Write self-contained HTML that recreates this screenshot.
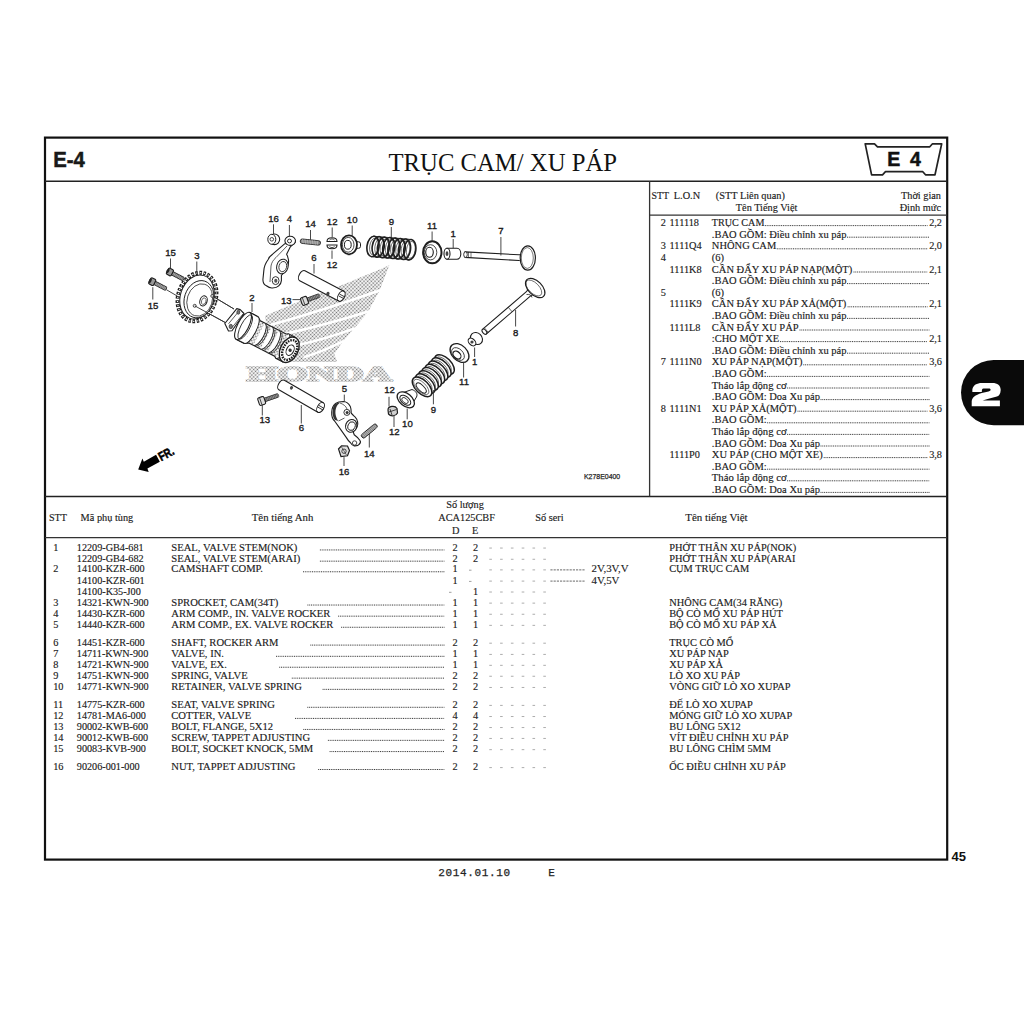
<!DOCTYPE html>
<html><head><meta charset="utf-8"><title>E-4 TRỤC CAM/ XU PÁP</title>
<style>html,body{margin:0;padding:0;background:#fff;width:1024px;height:1024px;overflow:hidden}svg{display:block}</style></head>
<body><svg width="1024" height="1024" viewBox="0 0 1024 1024" font-family="Liberation Serif">
<rect width="1024" height="1024" fill="#fff"/>
<defs>
<pattern id="ht" width="2.6" height="2.6" patternUnits="userSpaceOnUse" patternTransform="rotate(45)"><rect width="2.6" height="2.6" fill="#fff"/><circle cx="1.3" cy="1.3" r="0.85" fill="#707070"/></pattern>
<pattern id="ht2" width="2.2" height="2.2" patternUnits="userSpaceOnUse" patternTransform="rotate(45)"><rect width="2.2" height="2.2" fill="#fff"/><circle cx="1.1" cy="1.1" r="0.8" fill="#777"/></pattern>
</defs>
<g>
<path d="M264.9,315.9 C300,300 350,283 389.5,264.9 L379.6,290.4 L368.3,311.6 L354.1,328.6 L342.8,341.4 L334.3,354.1 L337.1,362 L291.8,362 L280.5,351.3 L267.7,331.5 Z" fill="url(#ht)"/>
<path d="M379.6,290.4 Q323.6,310.1 267.7,325.8" fill="none" stroke="#fff" stroke-width="2.6" stroke-linecap="round"/>
<path d="M368.3,311.6 Q325.8,325.0 283.3,334.3" fill="none" stroke="#fff" stroke-width="2.6" stroke-linecap="round"/>
<path d="M354.1,328.6 Q325.1,339.1 296,345.6" fill="none" stroke="#fff" stroke-width="2.6" stroke-linecap="round"/>
<path d="M342.8,341.4 Q323.7,351.2 304.6,357" fill="none" stroke="#fff" stroke-width="2.6" stroke-linecap="round"/>
<text x="247" y="380.6" font-family="Liberation Serif" font-weight="bold" font-size="21.5" textLength="144.5" lengthAdjust="spacingAndGlyphs" fill="url(#ht)" stroke="url(#ht)" stroke-width="2.2" stroke-linejoin="miter">HONDA</text>
</g>
<line x1="166.4" y1="289.7" x2="177.5" y2="296.2" stroke="#333" stroke-width="0.9"/>
<line x1="183.5" y1="279.4" x2="188.5" y2="282.2" stroke="#333" stroke-width="0.9"/>
<line x1="212.3" y1="296" x2="234" y2="309" stroke="#333" stroke-width="0.9"/>
<line x1="194.7" y1="305.8" x2="225" y2="322.4" stroke="#333" stroke-width="0.9"/>
<g transform="translate(197,297) rotate(18)">
<ellipse cx="0" cy="0" rx="18.8" ry="24.8" fill="#fff" stroke="#1e1e1e" stroke-width="4" stroke-dasharray="2.5 1.55" stroke-linecap="butt"/>
<ellipse cx="0" cy="0" rx="18.8" ry="24.8" fill="none" stroke="#fff" stroke-width="1.3" stroke-dasharray="1.1 2.95" stroke-dashoffset="-0.7"/>
<ellipse cx="0" cy="0" rx="16.6" ry="22.5" fill="#fff" stroke="#1e1e1e" stroke-width="1"/>
<ellipse cx="2.5" cy="1.5" rx="14.5" ry="19" fill="#fff" stroke="#1e1e1e" stroke-width="0.9"/>
<ellipse cx="3.5" cy="2" rx="12.5" ry="16.5" fill="none" stroke="#1e1e1e" stroke-width="0.7"/>
</g>
<ellipse cx="203.5" cy="300.9" rx="3.6" ry="5.2" transform="rotate(18 203.5 300.9)" fill="#fff" stroke="#1e1e1e" stroke-width="1"/>
<ellipse cx="203.8" cy="301.1" rx="2.2" ry="3.4" transform="rotate(18 203.5 300.9)" fill="none" stroke="#1e1e1e" stroke-width="0.6"/>
<circle cx="212.3" cy="296" r="1.5" fill="#fff" stroke="#1e1e1e" stroke-width="0.8"/>
<circle cx="194.7" cy="305.8" r="1.5" fill="#fff" stroke="#1e1e1e" stroke-width="0.8"/>
<line x1="212.3" y1="296" x2="234" y2="309" stroke="#333" stroke-width="0.9"/>
<line x1="194.7" y1="305.8" x2="225" y2="322.4" stroke="#333" stroke-width="0.9"/>
<g transform="translate(170.5,272.3) rotate(28.0)">
<rect x="0" y="-1.8" width="14.7" height="3.6" rx="0.8" fill="#777" stroke="#1e1e1e" stroke-width="0.9"/>
<line x1="3.0" y1="-1.8" x2="3.0" y2="1.8" stroke="#ddd" stroke-width="0.4"/>
<line x1="4.6" y1="-1.8" x2="4.6" y2="1.8" stroke="#ddd" stroke-width="0.4"/>
<line x1="6.2" y1="-1.8" x2="6.2" y2="1.8" stroke="#ddd" stroke-width="0.4"/>
<line x1="7.8" y1="-1.8" x2="7.8" y2="1.8" stroke="#ddd" stroke-width="0.4"/>
<line x1="9.4" y1="-1.8" x2="9.4" y2="1.8" stroke="#ddd" stroke-width="0.4"/>
<line x1="11.0" y1="-1.8" x2="11.0" y2="1.8" stroke="#ddd" stroke-width="0.4"/>
<line x1="12.6" y1="-1.8" x2="12.6" y2="1.8" stroke="#ddd" stroke-width="0.4"/>
<line x1="14.2" y1="-1.8" x2="14.2" y2="1.8" stroke="#ddd" stroke-width="0.4"/>
<rect x="-3.4" y="-3.4" width="5.44" height="6.8" rx="1.2" fill="#999" stroke="#1e1e1e" stroke-width="1.1"/>
<ellipse cx="-2.9" cy="0" rx="1.3" ry="2.5999999999999996" fill="#222"/>
</g>
<g transform="translate(152.8,282) rotate(26.9)">
<rect x="0" y="-1.8" width="15.0" height="3.6" rx="0.8" fill="#777" stroke="#1e1e1e" stroke-width="0.9"/>
<line x1="3.0" y1="-1.8" x2="3.0" y2="1.8" stroke="#ddd" stroke-width="0.4"/>
<line x1="4.6" y1="-1.8" x2="4.6" y2="1.8" stroke="#ddd" stroke-width="0.4"/>
<line x1="6.2" y1="-1.8" x2="6.2" y2="1.8" stroke="#ddd" stroke-width="0.4"/>
<line x1="7.8" y1="-1.8" x2="7.8" y2="1.8" stroke="#ddd" stroke-width="0.4"/>
<line x1="9.4" y1="-1.8" x2="9.4" y2="1.8" stroke="#ddd" stroke-width="0.4"/>
<line x1="11.0" y1="-1.8" x2="11.0" y2="1.8" stroke="#ddd" stroke-width="0.4"/>
<line x1="12.6" y1="-1.8" x2="12.6" y2="1.8" stroke="#ddd" stroke-width="0.4"/>
<line x1="14.2" y1="-1.8" x2="14.2" y2="1.8" stroke="#ddd" stroke-width="0.4"/>
<rect x="-3.4" y="-3.4" width="5.44" height="6.8" rx="1.2" fill="#999" stroke="#1e1e1e" stroke-width="1.1"/>
<ellipse cx="-2.9" cy="0" rx="1.3" ry="2.5999999999999996" fill="#222"/>
</g>
<text x="170.6" y="256.3" font-family="Liberation Sans" font-size="9.6" text-anchor="middle" fill="#1a1a1a" stroke="#1a1a1a" stroke-width="0.35">15</text>
<line x1="170.5" y1="258.5" x2="170.5" y2="268.5" stroke="#333" stroke-width="0.9"/>
<text x="153" y="309.4" font-family="Liberation Sans" font-size="9.6" text-anchor="middle" fill="#1a1a1a" stroke="#1a1a1a" stroke-width="0.35">15</text>
<line x1="152.8" y1="287.2" x2="152.8" y2="299.5" stroke="#333" stroke-width="0.9"/>
<text x="196.8" y="259" font-family="Liberation Sans" font-size="9.6" text-anchor="middle" fill="#1a1a1a" stroke="#1a1a1a" stroke-width="0.35">3</text>
<line x1="196.8" y1="261.5" x2="196.8" y2="273.5" stroke="#333" stroke-width="0.9"/>
<path d="M224.8,323.5 L236.8,308.6 L240.2,309.6 L244,313.5 L232,330.8 L228.5,331 Z" fill="#fff" stroke="#1e1e1e" stroke-width="1.1" stroke-linejoin="round"/>
<path d="M228.5,323.8 L239.5,310.5 M232,327.5 L243,314" fill="none" stroke="#1e1e1e" stroke-width="0.7"/>
<ellipse cx="230.8" cy="326.5" rx="1.7" ry="2.2" fill="#777" stroke="#1e1e1e" stroke-width="0.6"/>
<ellipse cx="238.3" cy="312.3" rx="1.5" ry="2" fill="#777" stroke="#1e1e1e" stroke-width="0.6"/>
<g transform="translate(229.7,319) rotate(27.3)">
<path d="M15,-15 L24,-15 L28,-12.5 L57,-12.5 L59,-13.8 L67,-13.8 L67,13.8 L59,13.8 L57,12.5 L28,12.5 L24,15 L15,15 Z" fill="url(#ht)" stroke="#1e1e1e" stroke-width="1.1"/>
<path d="M15,-15 L24,-15 L24,15 L15,15 Z" fill="#fff"/>
<path d="M15,-15 L24,-15 M15,15 L24,15" stroke="#1e1e1e" stroke-width="1.1"/>
<ellipse cx="15" cy="0" rx="5.5" ry="15" fill="#fff" stroke="#1e1e1e" stroke-width="1.1"/>
<ellipse cx="17.5" cy="0" rx="4.5" ry="13.5" fill="none" stroke="#1e1e1e" stroke-width="0.8"/>
<path d="M24,-15 A5,15 0 0 1 24,15" fill="#fff" stroke="#1e1e1e" stroke-width="0.9"/>
<path d="M33,-12.5 A5,12.5 0 0 1 33,12.5" fill="#fff" stroke="#1e1e1e" stroke-width="0.9"/>
<path d="M36,-11 A4,11 0 0 1 36,11" fill="none" stroke="#1e1e1e" stroke-width="0.7"/>
<path d="M41,-12.5 A5,12.5 0 0 1 41,12.5" fill="#fff" stroke="#1e1e1e" stroke-width="0.9"/>
<path d="M44,-11 A4,11 0 0 1 44,11" fill="none" stroke="#1e1e1e" stroke-width="0.7"/>
<path d="M49,-12.5 A5,12.5 0 0 1 49,12.5" fill="#fff" stroke="#1e1e1e" stroke-width="0.9"/>
<path d="M52,-11 A4,11 0 0 1 52,11" fill="none" stroke="#1e1e1e" stroke-width="0.7"/>
<path d="M59,-13.8 A5,13.8 0 0 1 59,13.8" fill="#fff" stroke="#1e1e1e" stroke-width="0.9"/>
<ellipse cx="67" cy="0" rx="8.8" ry="13.6" fill="#fff" stroke="#1e1e1e" stroke-width="1.4"/>
<ellipse cx="67.5" cy="0" rx="6.6" ry="10.6" fill="#fff" stroke="#1e1e1e" stroke-width="2.4" stroke-dasharray="1.6 1"/>
<ellipse cx="68" cy="0" rx="3.6" ry="5.6" fill="none" stroke="#1e1e1e" stroke-width="1"/>
<circle cx="68" cy="0" r="1.7" fill="#333"/>
</g>
<text x="252" y="300.6" font-family="Liberation Sans" font-size="9.6" text-anchor="middle" fill="#1a1a1a" stroke="#1a1a1a" stroke-width="0.35">2</text>
<line x1="252" y1="303" x2="252" y2="312" stroke="#333" stroke-width="0.9"/>
<ellipse cx="274.5" cy="239.3" rx="5.2" ry="5.3" fill="#fff" stroke="#1e1e1e" stroke-width="1.1"/>
<ellipse cx="271.8" cy="239.3" rx="4" ry="5" fill="#fff" stroke="#1e1e1e" stroke-width="1"/>
<circle cx="271.8" cy="239.3" r="1.8" fill="none" stroke="#1e1e1e" stroke-width="0.8"/>
<text x="273.5" y="221.8" font-family="Liberation Sans" font-size="9.6" text-anchor="middle" fill="#1a1a1a" stroke="#1a1a1a" stroke-width="0.35">16</text>
<line x1="273.5" y1="224.3" x2="273.5" y2="234" stroke="#333" stroke-width="0.9"/>
<path d="M284.9,243.7 L272.6,254.2 C270,256 268.5,258 268.2,259.5 C265.5,263 264,267 263.8,270.9 L262.9,279.7 C263,283 264.5,285 266.4,285.8 C268.5,287.5 270.5,288.3 272.6,288 C275.5,287.8 277.5,287 278.7,285.8 C280.5,284 281.3,282.5 281.4,280.6 L281.4,275.3 C284,273 286.5,270 287.5,266.5 C288.5,264 288.8,261.5 288.4,259.5 C288,257.5 287.5,255.5 286.6,254.2 L290.1,247.2 L295.4,241.9 Z" fill="#fff" stroke="#1e1e1e" stroke-width="1.1" stroke-linejoin="round"/>
<path d="M287,246 L276,257.5 C273,260 271.5,263 271,266 L270,282" fill="none" stroke="#1e1e1e" stroke-width="0.7"/>
<ellipse cx="290.2" cy="240.8" rx="5.3" ry="4.6" fill="#fff" stroke="#1e1e1e" stroke-width="1.1"/>
<ellipse cx="289.5" cy="241" rx="2" ry="1.9" fill="none" stroke="#1e1e1e" stroke-width="0.9"/>
<ellipse cx="282.4" cy="266.5" rx="5.7" ry="7.4" transform="rotate(15 282.4 266.5)" fill="#fff" stroke="#1e1e1e" stroke-width="1"/>
<ellipse cx="282.8" cy="266.5" rx="3.8" ry="5.2" transform="rotate(15 282.4 266.5)" fill="none" stroke="#1e1e1e" stroke-width="0.8"/>
<ellipse cx="275.6" cy="280.6" rx="3.4" ry="4" fill="#fff" stroke="#1e1e1e" stroke-width="0.9"/>
<ellipse cx="275.8" cy="280.8" rx="1.6" ry="2" fill="#555"/>
<text x="289.4" y="222" font-family="Liberation Sans" font-size="9.6" text-anchor="middle" fill="#1a1a1a" stroke="#1a1a1a" stroke-width="0.35">4</text>
<line x1="289.4" y1="225" x2="289.4" y2="236" stroke="#333" stroke-width="0.9"/>
<g transform="translate(300.3,241) rotate(6)">
<rect x="0" y="-2.2" width="20.3" height="4.4" rx="2" fill="#888" stroke="#1e1e1e" stroke-width="0.9"/>
<line x1="2.0" y1="-2.2" x2="2.0" y2="2.2" stroke="#e0e0e0" stroke-width="0.45"/>
<line x1="3.7" y1="-2.2" x2="3.7" y2="2.2" stroke="#e0e0e0" stroke-width="0.45"/>
<line x1="5.4" y1="-2.2" x2="5.4" y2="2.2" stroke="#e0e0e0" stroke-width="0.45"/>
<line x1="7.1" y1="-2.2" x2="7.1" y2="2.2" stroke="#e0e0e0" stroke-width="0.45"/>
<line x1="8.8" y1="-2.2" x2="8.8" y2="2.2" stroke="#e0e0e0" stroke-width="0.45"/>
<line x1="10.5" y1="-2.2" x2="10.5" y2="2.2" stroke="#e0e0e0" stroke-width="0.45"/>
<line x1="12.2" y1="-2.2" x2="12.2" y2="2.2" stroke="#e0e0e0" stroke-width="0.45"/>
<line x1="13.9" y1="-2.2" x2="13.9" y2="2.2" stroke="#e0e0e0" stroke-width="0.45"/>
<line x1="15.6" y1="-2.2" x2="15.6" y2="2.2" stroke="#e0e0e0" stroke-width="0.45"/>
<line x1="17.3" y1="-2.2" x2="17.3" y2="2.2" stroke="#e0e0e0" stroke-width="0.45"/>
</g>
<text x="310.5" y="227.3" font-family="Liberation Sans" font-size="9.6" text-anchor="middle" fill="#1a1a1a" stroke="#1a1a1a" stroke-width="0.35">14</text>
<line x1="310.5" y1="230" x2="310.5" y2="239.8" stroke="#333" stroke-width="0.9"/>
<path d="M327,241.5 C327,236.5 337,236.5 337,241.5 Z" fill="#fff" stroke="#1e1e1e" stroke-width="1.1"/>
<path d="M327,245 L337,245 C337,250 327,250 327,245 Z" fill="#fff" stroke="#1e1e1e" stroke-width="1.1"/>
<path d="M329.5,240 C331,238.5 333,238.5 334.5,240 M329.5,246.5 C331,248 333,248 334.5,246.5" fill="none" stroke="#1e1e1e" stroke-width="0.8"/>
<text x="332.2" y="225.2" font-family="Liberation Sans" font-size="9.6" text-anchor="middle" fill="#1a1a1a" stroke="#1a1a1a" stroke-width="0.35">12</text>
<line x1="332.2" y1="227.5" x2="332.2" y2="237" stroke="#333" stroke-width="0.9"/>
<text x="332" y="267.6" font-family="Liberation Sans" font-size="9.6" text-anchor="middle" fill="#1a1a1a" stroke="#1a1a1a" stroke-width="0.35">12</text>
<line x1="332" y1="250.5" x2="332" y2="258.8" stroke="#333" stroke-width="0.9"/>
<g transform="translate(302.3,275.7) rotate(27.7)">
<path d="M0,-5.6 L44,-5.6 A3.2,5.6 0 0 1 44,5.6 L0,5.6 A3.2,5.6 0 0 1 0,-5.6 Z" fill="#fff" stroke="#1e1e1e" stroke-width="1.1"/>
<path d="M44,-5.6 A3.2,5.6 0 0 0 44,5.6" fill="none" stroke="#1e1e1e" stroke-width="0.9"/>
<path d="M41.5,-1 L47,-1 M41.5,1 L47,1" stroke="#1e1e1e" stroke-width="0.8"/>
<ellipse cx="31" cy="4" rx="1.6" ry="2" fill="#444"/>
</g>
<text x="314" y="261.3" font-family="Liberation Sans" font-size="9.6" text-anchor="middle" fill="#1a1a1a" stroke="#1a1a1a" stroke-width="0.35">6</text>
<line x1="314" y1="264" x2="314" y2="273.5" stroke="#333" stroke-width="0.9"/>
<g transform="translate(305,300.7) rotate(-20.0)">
<rect x="0" y="-1.8" width="15.5" height="3.6" rx="1" fill="#555" stroke="#1e1e1e" stroke-width="0.8"/>
<line x1="4.0" y1="-1.7" x2="4.0" y2="1.7" stroke="#ddd" stroke-width="0.4"/>
<line x1="5.6" y1="-1.7" x2="5.6" y2="1.7" stroke="#ddd" stroke-width="0.4"/>
<line x1="7.2" y1="-1.7" x2="7.2" y2="1.7" stroke="#ddd" stroke-width="0.4"/>
<line x1="8.8" y1="-1.7" x2="8.8" y2="1.7" stroke="#ddd" stroke-width="0.4"/>
<line x1="10.4" y1="-1.7" x2="10.4" y2="1.7" stroke="#ddd" stroke-width="0.4"/>
<line x1="12.0" y1="-1.7" x2="12.0" y2="1.7" stroke="#ddd" stroke-width="0.4"/>
<line x1="13.6" y1="-1.7" x2="13.6" y2="1.7" stroke="#ddd" stroke-width="0.4"/>
<line x1="15.2" y1="-1.7" x2="15.2" y2="1.7" stroke="#ddd" stroke-width="0.4"/>
<rect x="-3.8" y="-4" width="6.5" height="8" rx="1.5" fill="#ddd" stroke="#1e1e1e" stroke-width="1.1"/>
<path d="M-1.5,-3.5 L-1.5,3.5" stroke="#1e1e1e" stroke-width="0.7"/>
</g>
<text x="286.3" y="303.6" font-family="Liberation Sans" font-size="9.6" text-anchor="middle" fill="#1a1a1a" stroke="#1a1a1a" stroke-width="0.35">13</text>
<line x1="292.5" y1="299.6" x2="301.2" y2="299.6" stroke="#333" stroke-width="0.9"/>
<rect x="355" y="241.8" width="5.5" height="6.5" rx="2" fill="#fff" stroke="#1e1e1e" stroke-width="1"/>
<ellipse cx="349" cy="244.8" rx="8" ry="9.5" fill="#fff" stroke="#1e1e1e" stroke-width="1.8"/>
<ellipse cx="348.2" cy="244.8" rx="5.8" ry="7.4" fill="none" stroke="#1e1e1e" stroke-width="0.8"/>
<ellipse cx="347.8" cy="244.8" rx="3.4" ry="4.4" fill="#fff" stroke="#1e1e1e" stroke-width="1"/>
<text x="352.2" y="223.2" font-family="Liberation Sans" font-size="9.6" text-anchor="middle" fill="#1a1a1a" stroke="#1a1a1a" stroke-width="0.35">10</text>
<line x1="352.2" y1="225.5" x2="352.2" y2="235.5" stroke="#333" stroke-width="0.9"/>
<ellipse cx="373.0" cy="246.5" rx="6" ry="10.3" transform="rotate(8 373.0 246.5)" fill="none" stroke="#1e1e1e" stroke-width="1.6"/>
<ellipse cx="374.0" cy="246.5" rx="4.3" ry="8.5" transform="rotate(8 373.0 246.5)" fill="none" stroke="#1e1e1e" stroke-width="0.6"/>
<ellipse cx="378.2" cy="246.9" rx="6" ry="10.3" transform="rotate(8 378.2 246.9)" fill="none" stroke="#1e1e1e" stroke-width="1.6"/>
<ellipse cx="379.2" cy="246.9" rx="4.3" ry="8.5" transform="rotate(8 378.2 246.9)" fill="none" stroke="#1e1e1e" stroke-width="0.6"/>
<ellipse cx="383.5" cy="247.4" rx="6" ry="10.3" transform="rotate(8 383.5 247.4)" fill="none" stroke="#1e1e1e" stroke-width="1.6"/>
<ellipse cx="384.5" cy="247.4" rx="4.3" ry="8.5" transform="rotate(8 383.5 247.4)" fill="none" stroke="#1e1e1e" stroke-width="0.6"/>
<ellipse cx="388.8" cy="247.8" rx="6" ry="10.3" transform="rotate(8 388.8 247.8)" fill="none" stroke="#1e1e1e" stroke-width="1.6"/>
<ellipse cx="389.8" cy="247.8" rx="4.3" ry="8.5" transform="rotate(8 388.8 247.8)" fill="none" stroke="#1e1e1e" stroke-width="0.6"/>
<ellipse cx="394.0" cy="248.3" rx="6" ry="10.3" transform="rotate(8 394.0 248.3)" fill="none" stroke="#1e1e1e" stroke-width="1.6"/>
<ellipse cx="395.0" cy="248.3" rx="4.3" ry="8.5" transform="rotate(8 394.0 248.3)" fill="none" stroke="#1e1e1e" stroke-width="0.6"/>
<ellipse cx="399.2" cy="248.8" rx="6" ry="10.3" transform="rotate(8 399.2 248.8)" fill="none" stroke="#1e1e1e" stroke-width="1.6"/>
<ellipse cx="400.2" cy="248.8" rx="4.3" ry="8.5" transform="rotate(8 399.2 248.8)" fill="none" stroke="#1e1e1e" stroke-width="0.6"/>
<ellipse cx="404.5" cy="249.2" rx="6" ry="10.3" transform="rotate(8 404.5 249.2)" fill="none" stroke="#1e1e1e" stroke-width="1.6"/>
<ellipse cx="405.5" cy="249.2" rx="4.3" ry="8.5" transform="rotate(8 404.5 249.2)" fill="none" stroke="#1e1e1e" stroke-width="0.6"/>
<ellipse cx="409.8" cy="249.7" rx="6" ry="10.3" transform="rotate(8 409.8 249.7)" fill="none" stroke="#1e1e1e" stroke-width="1.6"/>
<ellipse cx="410.8" cy="249.7" rx="4.3" ry="8.5" transform="rotate(8 409.8 249.7)" fill="none" stroke="#1e1e1e" stroke-width="0.6"/>
<path d="M373,236.2 L409.8,239.3 M373,256.8 L409.8,259.9" stroke="#1e1e1e" stroke-width="0.8"/>
<text x="391.3" y="224.7" font-family="Liberation Sans" font-size="9.6" text-anchor="middle" fill="#1a1a1a" stroke="#1a1a1a" stroke-width="0.35">9</text>
<line x1="391.3" y1="227" x2="391.3" y2="238" stroke="#333" stroke-width="0.9"/>
<ellipse cx="432.3" cy="252.3" rx="9.2" ry="11" fill="#fff" stroke="#1e1e1e" stroke-width="2"/>
<ellipse cx="430.5" cy="252.3" rx="6.3" ry="7.6" fill="none" stroke="#1e1e1e" stroke-width="0.8"/>
<ellipse cx="429.5" cy="252.3" rx="3.8" ry="5" fill="#fff" stroke="#1e1e1e" stroke-width="1.1"/>
<text x="432.1" y="229" font-family="Liberation Sans" font-size="9.6" text-anchor="middle" fill="#1a1a1a" stroke="#1a1a1a" stroke-width="0.35">11</text>
<line x1="432.1" y1="231.5" x2="432.1" y2="241.3" stroke="#333" stroke-width="0.9"/>
<path d="M447,248.2 L457,248.2 A3.8,5.5 0 0 1 457,259.2 L447,259.2 Z" fill="#fff" stroke="#1e1e1e" stroke-width="1.1"/>
<ellipse cx="447" cy="253.7" rx="3" ry="5.5" fill="#fff" stroke="#1e1e1e" stroke-width="1.1"/>
<ellipse cx="447" cy="253.7" rx="1.4" ry="2.4" fill="#444"/>
<text x="453.2" y="236.5" font-family="Liberation Sans" font-size="9.6" text-anchor="middle" fill="#1a1a1a" stroke="#1a1a1a" stroke-width="0.35">1</text>
<line x1="453.2" y1="239" x2="453.2" y2="248.2" stroke="#333" stroke-width="0.9"/>
<path d="M465,251.9 L519,254.8 C522,255 523,254 524,252 L524,263.5 C523,261 522,260.5 519,260.5 L465,257.4 Z" fill="#fff" stroke="#1e1e1e" stroke-width="1.1"/>
<ellipse cx="465.5" cy="254.6" rx="1.8" ry="2.8" fill="#fff" stroke="#1e1e1e" stroke-width="0.9"/>
<path d="M468.5,252 L468.5,257.4 M471,252.2 L471,257.5" stroke="#1e1e1e" stroke-width="0.6"/>
<ellipse cx="527.8" cy="258" rx="7.6" ry="12.2" fill="#fff" stroke="#1e1e1e" stroke-width="1.2"/>
<ellipse cx="527.3" cy="258" rx="6" ry="10.4" fill="none" stroke="#1e1e1e" stroke-width="0.6"/>
<text x="500.9" y="234.4" font-family="Liberation Sans" font-size="9.6" text-anchor="middle" fill="#1a1a1a" stroke="#1a1a1a" stroke-width="0.35">7</text>
<line x1="500.9" y1="237" x2="500.9" y2="255.5" stroke="#333" stroke-width="0.9"/>
<g transform="translate(484.4,331.7) rotate(-40.7)">
<path d="M0,-3 L58,-3 C61,-3 62,-4 63,-6 L63,6 C62,4 61,3 58,3 L0,3 Z" fill="#fff" stroke="#1e1e1e" stroke-width="1.1"/>
<ellipse cx="0" cy="0" rx="1.8" ry="3" fill="#fff" stroke="#1e1e1e" stroke-width="1"/>
<path d="M2.5,-3 L2.5,3 M34,-3 L34,3" stroke="#1e1e1e" stroke-width="0.6"/>
</g>
<ellipse cx="535.2" cy="288" rx="11.8" ry="7" transform="rotate(45 535.2 288)" fill="#fff" stroke="#1e1e1e" stroke-width="1.2"/>
<ellipse cx="534.2" cy="289" rx="10" ry="5.2" transform="rotate(45 535.2 288)" fill="none" stroke="#1e1e1e" stroke-width="0.6"/>
<path d="M526.5,294.5 C529,294 531.5,295 532,297.5" stroke="#1e1e1e" stroke-width="0.8" fill="none"/>
<text x="515.6" y="335.6" font-family="Liberation Sans" font-size="9.6" text-anchor="middle" fill="#1a1a1a" stroke="#1a1a1a" stroke-width="0.35">8</text>
<line x1="515.6" y1="310" x2="515.6" y2="326.5" stroke="#333" stroke-width="0.9"/>
<ellipse cx="476.5" cy="338.5" rx="5.5" ry="6.5" transform="rotate(-45 476.5 338.5)" fill="#fff" stroke="#1e1e1e" stroke-width="1.1"/>
<ellipse cx="472" cy="342" rx="3" ry="4.5" transform="rotate(-45 472 342)" fill="#fff" stroke="#1e1e1e" stroke-width="1.1"/>
<circle cx="472" cy="342" r="1.6" fill="#444"/>
<text x="474.6" y="365" font-family="Liberation Sans" font-size="9.6" text-anchor="middle" fill="#1a1a1a" stroke="#1a1a1a" stroke-width="0.35">1</text>
<line x1="474.6" y1="347.5" x2="474.6" y2="357" stroke="#333" stroke-width="0.9"/>
<ellipse cx="459.5" cy="353" rx="11" ry="7.6" transform="rotate(45 459.5 353)" fill="#fff" stroke="#1e1e1e" stroke-width="1.3"/>
<ellipse cx="458" cy="354" rx="7.5" ry="5" transform="rotate(45 458 354)" fill="none" stroke="#1e1e1e" stroke-width="0.8"/>
<ellipse cx="457" cy="355" rx="4.6" ry="3.2" transform="rotate(45 457 355)" fill="#fff" stroke="#1e1e1e" stroke-width="1.1"/>
<text x="464" y="384.8" font-family="Liberation Sans" font-size="9.6" text-anchor="middle" fill="#1a1a1a" stroke="#1a1a1a" stroke-width="0.35">11</text>
<line x1="463.6" y1="362.2" x2="463.6" y2="377.5" stroke="#333" stroke-width="0.9"/>
<ellipse cx="444.5" cy="364.5" rx="12.2" ry="6.6" transform="rotate(45 444.5 364.5)" fill="#fff" stroke="#1e1e1e" stroke-width="1.5"/>
<ellipse cx="443.9" cy="365.1" rx="9.8" ry="4.6" transform="rotate(45 444.5 364.5)" fill="none" stroke="#1e1e1e" stroke-width="0.6"/>
<ellipse cx="441.3" cy="367.7" rx="12.2" ry="6.6" transform="rotate(45 441.3 367.7)" fill="#fff" stroke="#1e1e1e" stroke-width="1.5"/>
<ellipse cx="440.7" cy="368.3" rx="9.8" ry="4.6" transform="rotate(45 441.3 367.7)" fill="none" stroke="#1e1e1e" stroke-width="0.6"/>
<ellipse cx="438.1" cy="370.9" rx="12.2" ry="6.6" transform="rotate(45 438.1 370.9)" fill="#fff" stroke="#1e1e1e" stroke-width="1.5"/>
<ellipse cx="437.5" cy="371.5" rx="9.8" ry="4.6" transform="rotate(45 438.1 370.9)" fill="none" stroke="#1e1e1e" stroke-width="0.6"/>
<ellipse cx="434.9" cy="374.1" rx="12.2" ry="6.6" transform="rotate(45 434.9 374.1)" fill="#fff" stroke="#1e1e1e" stroke-width="1.5"/>
<ellipse cx="434.3" cy="374.7" rx="9.8" ry="4.6" transform="rotate(45 434.9 374.1)" fill="none" stroke="#1e1e1e" stroke-width="0.6"/>
<ellipse cx="431.7" cy="377.3" rx="12.2" ry="6.6" transform="rotate(45 431.7 377.3)" fill="#fff" stroke="#1e1e1e" stroke-width="1.5"/>
<ellipse cx="431.1" cy="377.9" rx="9.8" ry="4.6" transform="rotate(45 431.7 377.3)" fill="none" stroke="#1e1e1e" stroke-width="0.6"/>
<ellipse cx="428.5" cy="380.5" rx="12.2" ry="6.6" transform="rotate(45 428.5 380.5)" fill="#fff" stroke="#1e1e1e" stroke-width="1.5"/>
<ellipse cx="427.9" cy="381.1" rx="9.8" ry="4.6" transform="rotate(45 428.5 380.5)" fill="none" stroke="#1e1e1e" stroke-width="0.6"/>
<ellipse cx="425.3" cy="383.7" rx="12.2" ry="6.6" transform="rotate(45 425.3 383.7)" fill="#fff" stroke="#1e1e1e" stroke-width="1.5"/>
<ellipse cx="424.7" cy="384.3" rx="9.8" ry="4.6" transform="rotate(45 425.3 383.7)" fill="none" stroke="#1e1e1e" stroke-width="0.6"/>
<ellipse cx="422.1" cy="386.9" rx="12.2" ry="6.6" transform="rotate(45 422.1 386.9)" fill="#fff" stroke="#1e1e1e" stroke-width="1.5"/>
<ellipse cx="421.5" cy="387.5" rx="9.8" ry="4.6" transform="rotate(45 422.1 386.9)" fill="none" stroke="#1e1e1e" stroke-width="0.6"/>
<ellipse cx="421.2" cy="388" rx="6.5" ry="2.8" transform="rotate(45 421.2 388)" fill="none" stroke="#1e1e1e" stroke-width="1"/>
<text x="433.4" y="413.2" font-family="Liberation Sans" font-size="9.6" text-anchor="middle" fill="#1a1a1a" stroke="#1a1a1a" stroke-width="0.35">9</text>
<line x1="433.4" y1="390" x2="433.4" y2="404.3" stroke="#333" stroke-width="0.9"/>
<path d="M402,393 L412,389.5 C416,391 418,394 416.5,397 L411,406 Z" fill="#fff" stroke="#1e1e1e" stroke-width="1"/>
<ellipse cx="405.8" cy="399.8" rx="10" ry="6.2" transform="rotate(40 405.8 399.8)" fill="#fff" stroke="#1e1e1e" stroke-width="1.3"/>
<ellipse cx="405.3" cy="400.3" rx="6.4" ry="3.8" transform="rotate(40 405.3 400.3)" fill="none" stroke="#1e1e1e" stroke-width="1"/>
<ellipse cx="405" cy="400.5" rx="3.8" ry="2.2" transform="rotate(40 405 400.5)" fill="#fff" stroke="#1e1e1e" stroke-width="0.8"/>
<text x="407.4" y="427.3" font-family="Liberation Sans" font-size="9.6" text-anchor="middle" fill="#1a1a1a" stroke="#1a1a1a" stroke-width="0.35">10</text>
<line x1="407.2" y1="408.5" x2="407.2" y2="419.3" stroke="#333" stroke-width="0.9"/>
<path d="M388,410 C388,406 395,405 397,408.5 L397.5,413 C396,416 391,417 388.5,414 Z" fill="#d0d0d0" stroke="#1e1e1e" stroke-width="1.2"/>
<path d="M389,412 L396.5,409.5 M390,409 L392,415" stroke="#1e1e1e" stroke-width="0.8"/>
<text x="389.5" y="393.3" font-family="Liberation Sans" font-size="9.6" text-anchor="middle" fill="#1a1a1a" stroke="#1a1a1a" stroke-width="0.35">12</text>
<line x1="389" y1="396.8" x2="389" y2="406.5" stroke="#333" stroke-width="0.9"/>
<text x="394.3" y="435.3" font-family="Liberation Sans" font-size="9.6" text-anchor="middle" fill="#1a1a1a" stroke="#1a1a1a" stroke-width="0.35">12</text>
<line x1="394" y1="416" x2="394" y2="427" stroke="#333" stroke-width="0.9"/>
<path d="M331.7,412.2 C331.5,416 332.5,419 334.6,421 L339.5,427.9 L346.4,437.6 C347.5,439.5 349,441.5 350.3,442.5 C351.5,444.5 352.5,445.8 354.2,445.9 C356.5,446 358.5,445.5 359,444.5 C360.5,443 360.8,441.5 360,440.5 C358.5,438 356,436 354.2,434.7 L353.2,431.8 C355,430.5 356.5,428.5 357.1,426.9 C358,425 358,423.5 357.6,422 C357.3,420 356.5,418.3 355.2,417.1 C353.5,415.5 352,414.2 351.25,413.2 C351.2,410.5 351,408 350.3,406.4 C348.5,403 346,401.6 343.4,401.5 C340,401.5 337.5,402 335.6,403.4 C333,405.5 331.8,409 331.7,412.2 Z" fill="#fff" stroke="#1e1e1e" stroke-width="1.1" stroke-linejoin="round"/>
<path d="M333.5,406 C335,403.5 337.5,402.5 340,402.8 C336.5,405 335,409.5 335.5,414 C336,417 337,419.5 338.5,421 L335,420 C332.5,417 331.8,412 333.5,406 Z" fill="#333"/>
<path d="M338.5,421 L344.5,418 M340,403 C343,404 346,406 347,409" fill="none" stroke="#1e1e1e" stroke-width="0.7"/>
<ellipse cx="351.25" cy="425.9" rx="5.6" ry="6.5" transform="rotate(20 351.25 425.9)" fill="#fff" stroke="#1e1e1e" stroke-width="1.1"/>
<ellipse cx="351.6" cy="426" rx="3.6" ry="4.4" transform="rotate(20 351.25 425.9)" fill="none" stroke="#1e1e1e" stroke-width="0.9"/>
<circle cx="346.9" cy="412.4" r="3" fill="#fff" stroke="#1e1e1e" stroke-width="0.9"/>
<circle cx="347.1" cy="412.6" r="1.5" fill="#333"/>
<circle cx="354.6" cy="443" r="2.2" fill="none" stroke="#1e1e1e" stroke-width="0.8"/>
<text x="344.3" y="391.8" font-family="Liberation Sans" font-size="9.6" text-anchor="middle" fill="#1a1a1a" stroke="#1a1a1a" stroke-width="0.35">5</text>
<line x1="344.3" y1="394.6" x2="344.3" y2="401.5" stroke="#333" stroke-width="0.9"/>
<g transform="translate(362,437.1) rotate(-39.8)">
<rect x="0" y="-2.2" width="19" height="4.4" rx="2" fill="#888" stroke="#1e1e1e" stroke-width="0.9"/>
<line x1="2.0" y1="-2.2" x2="2.0" y2="2.2" stroke="#e0e0e0" stroke-width="0.45"/>
<line x1="3.7" y1="-2.2" x2="3.7" y2="2.2" stroke="#e0e0e0" stroke-width="0.45"/>
<line x1="5.4" y1="-2.2" x2="5.4" y2="2.2" stroke="#e0e0e0" stroke-width="0.45"/>
<line x1="7.1" y1="-2.2" x2="7.1" y2="2.2" stroke="#e0e0e0" stroke-width="0.45"/>
<line x1="8.8" y1="-2.2" x2="8.8" y2="2.2" stroke="#e0e0e0" stroke-width="0.45"/>
<line x1="10.5" y1="-2.2" x2="10.5" y2="2.2" stroke="#e0e0e0" stroke-width="0.45"/>
<line x1="12.2" y1="-2.2" x2="12.2" y2="2.2" stroke="#e0e0e0" stroke-width="0.45"/>
<line x1="13.9" y1="-2.2" x2="13.9" y2="2.2" stroke="#e0e0e0" stroke-width="0.45"/>
<line x1="15.6" y1="-2.2" x2="15.6" y2="2.2" stroke="#e0e0e0" stroke-width="0.45"/>
<line x1="17.3" y1="-2.2" x2="17.3" y2="2.2" stroke="#e0e0e0" stroke-width="0.45"/>
</g>
<text x="369.3" y="456.8" font-family="Liberation Sans" font-size="9.6" text-anchor="middle" fill="#1a1a1a" stroke="#1a1a1a" stroke-width="0.35">14</text>
<line x1="369.3" y1="434" x2="369.3" y2="447.5" stroke="#333" stroke-width="0.9"/>
<path d="M338.5,449 L341.5,445.8 L347.5,446 L349.5,450.5 L347.5,455.8 L341,456.5 Z" fill="#e0e0e0" stroke="#1e1e1e" stroke-width="1.2"/>
<circle cx="344" cy="451.2" r="2.2" fill="none" stroke="#1e1e1e" stroke-width="0.8"/>
<path d="M341.5,447 L346.5,455" stroke="#1e1e1e" stroke-width="0.6"/>
<text x="344" y="475" font-family="Liberation Sans" font-size="9.6" text-anchor="middle" fill="#1a1a1a" stroke="#1a1a1a" stroke-width="0.35">16</text>
<line x1="344" y1="457.1" x2="344" y2="466" stroke="#333" stroke-width="0.9"/>
<g transform="translate(281.6,385) rotate(30)">
<path d="M0,-5.5 L45,-5.5 A3.2,5.5 0 0 1 45,5.5 L0,5.5 A3.2,5.5 0 0 1 0,-5.5 Z" fill="#fff" stroke="#1e1e1e" stroke-width="1.1"/>
<path d="M45,-5.5 A3.2,5.5 0 0 0 45,5.5" fill="none" stroke="#1e1e1e" stroke-width="0.9"/>
<path d="M42.5,-1 L48,-1 M42.5,1 L48,1" stroke="#1e1e1e" stroke-width="0.8"/>
<ellipse cx="10" cy="-2.5" rx="1.5" ry="1.8" fill="#444"/>
</g>
<text x="301.3" y="431.4" font-family="Liberation Sans" font-size="9.6" text-anchor="middle" fill="#1a1a1a" stroke="#1a1a1a" stroke-width="0.35">6</text>
<line x1="301.3" y1="405" x2="301.3" y2="423.5" stroke="#333" stroke-width="0.9"/>
<g transform="translate(262.2,400.8) rotate(-19.0)">
<rect x="0" y="-1.8" width="17.2" height="3.6" rx="1" fill="#555" stroke="#1e1e1e" stroke-width="0.8"/>
<line x1="4.0" y1="-1.7" x2="4.0" y2="1.7" stroke="#ddd" stroke-width="0.4"/>
<line x1="5.6" y1="-1.7" x2="5.6" y2="1.7" stroke="#ddd" stroke-width="0.4"/>
<line x1="7.2" y1="-1.7" x2="7.2" y2="1.7" stroke="#ddd" stroke-width="0.4"/>
<line x1="8.8" y1="-1.7" x2="8.8" y2="1.7" stroke="#ddd" stroke-width="0.4"/>
<line x1="10.4" y1="-1.7" x2="10.4" y2="1.7" stroke="#ddd" stroke-width="0.4"/>
<line x1="12.0" y1="-1.7" x2="12.0" y2="1.7" stroke="#ddd" stroke-width="0.4"/>
<line x1="13.6" y1="-1.7" x2="13.6" y2="1.7" stroke="#ddd" stroke-width="0.4"/>
<line x1="15.2" y1="-1.7" x2="15.2" y2="1.7" stroke="#ddd" stroke-width="0.4"/>
<line x1="16.8" y1="-1.7" x2="16.8" y2="1.7" stroke="#ddd" stroke-width="0.4"/>
<rect x="-3.8" y="-4" width="6.5" height="8" rx="1.5" fill="#ddd" stroke="#1e1e1e" stroke-width="1.1"/>
<path d="M-1.5,-3.5 L-1.5,3.5" stroke="#1e1e1e" stroke-width="0.7"/>
</g>
<text x="264.8" y="423.4" font-family="Liberation Sans" font-size="9.6" text-anchor="middle" fill="#1a1a1a" stroke="#1a1a1a" stroke-width="0.35">13</text>
<line x1="262.3" y1="405" x2="262.3" y2="415.5" stroke="#333" stroke-width="0.9"/>
<g transform="translate(151.5,461.5) rotate(-29)">
<path d="M-15.5,0.5 L-6.5,-7 L-6.8,-3.6 L7.2,-3.6 L7.2,4.2 L-7,4.2 L-7.5,7.8 Z" fill="#000"/>
<text x="8.6" y="4.6" font-family="Liberation Sans" font-weight="bold" font-size="12.5" fill="#000" stroke="#000" stroke-width="0.6" textLength="15.8" lengthAdjust="spacingAndGlyphs">FR.</text>
</g>
<text x="584" y="478.8" font-family="Liberation Sans" font-size="7.8" fill="#222" stroke="#222" stroke-width="0.25" textLength="36.2" lengthAdjust="spacingAndGlyphs">K278E0400</text>
<rect x="45" y="137.6" width="902.2" height="722" fill="none" stroke="#111" stroke-width="2.2"/>
<line x1="45" y1="181.2" x2="947" y2="181.2" stroke="#222" stroke-width="1.5"/>
<line x1="45" y1="496.4" x2="947" y2="496.4" stroke="#222" stroke-width="1.5"/>
<line x1="649.6" y1="181.2" x2="649.6" y2="496.4" stroke="#333" stroke-width="1.3"/>
<line x1="649.6" y1="215.2" x2="947" y2="215.2" stroke="#333" stroke-width="1.3"/>
<line x1="45" y1="537.6" x2="947" y2="537.6" stroke="#333" stroke-width="1.3"/>
<text x="53.2" y="167.2" font-size="22.6" font-family="Liberation Sans" font-weight="bold" textLength="31.6" lengthAdjust="spacingAndGlyphs" fill="#1a1a1a" stroke="#111" stroke-width="0.5">E-4</text>
<text x="388.5" y="171" font-size="24.6" textLength="228.5" lengthAdjust="spacingAndGlyphs" fill="#111">TRỤC CAM/ XU PÁP</text>
<path d="M865.2,143.8 L874.5,143.8 L877.5,146.8 L929.8,146.8 L932.5,143.8 L941.7,143.8 L935,174.8 L925.5,174.8 L922.8,171.7 L885.5,171.7 L882.5,174.8 L871.6,174.8 Z" fill="none" stroke="#222" stroke-width="1.7" stroke-linejoin="round"/>
<text x="887.3" y="166.4" font-size="19.5" font-family="Liberation Sans" font-weight="bold" fill="#111" stroke="#111" stroke-width="0.5">E</text>
<text x="910" y="166.4" font-size="19.5" font-family="Liberation Sans" font-weight="bold" fill="#111" stroke="#111" stroke-width="0.5">4</text>
<path d="M993.7,359.9 L1024,359.9 L1024,425.3 L993.7,425.3 A32.7,32.7 0 0 1 993.7,359.9 Z" fill="#0a0a0a"/>
<path d="M972.35,392 L972.35,389.4 C973,385 977,382.9 981.8,382.9 L992.3,382.9 C997.5,382.9 1000.7,385.5 1000.7,389.9 L1000.3,392.8 C999.5,395.5 997.5,396.6 996.9,396.6 L988.5,398.7 L982.6,400.4 L999.9,400.4 L999.9,406.2 L971.7,406.2 L971.7,401.2 C972,397.5 975,395.2 981.8,393 L988.5,391.5 C990.5,390.8 990.6,389.9 990.6,389.9 C990.6,388.6 989.4,388.6 989.4,388.6 L983.5,388.6 C982,388.6 981.8,390.3 981.8,392 Z" fill="#fff"/>
<text x="951.5" y="861" font-size="13" font-family="Liberation Sans" font-weight="bold" fill="#111">45</text>
<text x="438.2" y="875.8" font-size="11" font-family="Liberation Mono" textLength="72" lengthAdjust="spacing" fill="#222" stroke="#222" stroke-width="0.25">2014.01.10</text>
<text x="548.3" y="875.8" font-size="11" font-family="Liberation Mono" fill="#222" stroke="#222" stroke-width="0.25">E</text>
<text x="651.5" y="198.9" font-size="10.3" textLength="17.5" lengthAdjust="spacingAndGlyphs" fill="#1a1a1a" stroke="#1a1a1a" stroke-width="0.14">STT</text>
<text x="673.8" y="198.9" font-size="10.3" fill="#1a1a1a" stroke="#1a1a1a" stroke-width="0.14">L.O.N</text>
<text x="715.8" y="198.9" font-size="10.3" fill="#1a1a1a" stroke="#1a1a1a" stroke-width="0.14">(STT Liên quan)</text>
<text x="735.8" y="210.7" font-size="10.3" fill="#1a1a1a" stroke="#1a1a1a" stroke-width="0.14">Tên Tiếng Việt</text>
<text x="941" y="198.9" font-size="10.3" text-anchor="end" fill="#1a1a1a" stroke="#1a1a1a" stroke-width="0.14">Thời gian</text>
<text x="941" y="210.5" font-size="10.3" text-anchor="end" fill="#1a1a1a" stroke="#1a1a1a" stroke-width="0.14">Định mức</text>
<text x="665.9" y="226.2" font-size="10.3" text-anchor="end" fill="#1a1a1a" stroke="#1a1a1a" stroke-width="0.14">2</text>
<text x="669.6" y="226.2" font-size="10.3" fill="#1a1a1a" stroke="#1a1a1a" stroke-width="0.14">111118</text>
<text x="711.8" y="226.2" font-size="10.15" fill="#1a1a1a" stroke="#1a1a1a" stroke-width="0.14">TRỤC CAM</text>
<text x="942" y="226.2" font-size="10.3" text-anchor="end" fill="#1a1a1a" stroke="#1a1a1a" stroke-width="0.14">2,2</text>
<line x1="764.9" y1="225.6" x2="927.5" y2="225.6" stroke="#3a3a3a" stroke-width="1" stroke-dasharray="1 0.8"/>
<text x="711.8" y="237.8" font-size="10.5" fill="#1a1a1a" stroke="#1a1a1a" stroke-width="0.14">.BAO GỒM: Điều chỉnh xu páp</text>
<line x1="847.0" y1="237.20000000000002" x2="929.5" y2="237.20000000000002" stroke="#3a3a3a" stroke-width="1" stroke-dasharray="1 0.8"/>
<text x="665.9" y="249.4" font-size="10.3" text-anchor="end" fill="#1a1a1a" stroke="#1a1a1a" stroke-width="0.14">3</text>
<text x="669.6" y="249.4" font-size="10.3" fill="#1a1a1a" stroke="#1a1a1a" stroke-width="0.14">1111Q4</text>
<text x="711.8" y="249.4" font-size="10.5" fill="#1a1a1a" stroke="#1a1a1a" stroke-width="0.14">NHÔNG CAM</text>
<text x="942" y="249.4" font-size="10.3" text-anchor="end" fill="#1a1a1a" stroke="#1a1a1a" stroke-width="0.14">2,0</text>
<line x1="776.8" y1="248.8" x2="927.5" y2="248.8" stroke="#3a3a3a" stroke-width="1" stroke-dasharray="1 0.8"/>
<text x="665.9" y="261.0" font-size="10.3" text-anchor="end" fill="#1a1a1a" stroke="#1a1a1a" stroke-width="0.14">4</text>
<text x="711.8" y="261.0" font-size="10.5" fill="#1a1a1a" stroke="#1a1a1a" stroke-width="0.14">(6)</text>
<text x="669.6" y="272.6" font-size="10.3" fill="#1a1a1a" stroke="#1a1a1a" stroke-width="0.14">1111K8</text>
<text x="711.8" y="272.6" font-size="10.5" fill="#1a1a1a" stroke="#1a1a1a" stroke-width="0.14">CẦN ĐẨY XU PÁP NẠP(MỘT)</text>
<text x="942" y="272.6" font-size="10.3" text-anchor="end" fill="#1a1a1a" stroke="#1a1a1a" stroke-width="0.14">2,1</text>
<line x1="853.5" y1="272.0" x2="927.5" y2="272.0" stroke="#3a3a3a" stroke-width="1" stroke-dasharray="1 0.8"/>
<text x="711.8" y="284.2" font-size="10.5" fill="#1a1a1a" stroke="#1a1a1a" stroke-width="0.14">.BAO GỒM: Điều chỉnh xu páp</text>
<line x1="847.0" y1="283.59999999999997" x2="929.5" y2="283.59999999999997" stroke="#3a3a3a" stroke-width="1" stroke-dasharray="1 0.8"/>
<text x="665.9" y="295.8" font-size="10.3" text-anchor="end" fill="#1a1a1a" stroke="#1a1a1a" stroke-width="0.14">5</text>
<text x="711.8" y="295.8" font-size="10.5" fill="#1a1a1a" stroke="#1a1a1a" stroke-width="0.14">(6)</text>
<text x="669.6" y="307.4" font-size="10.3" fill="#1a1a1a" stroke="#1a1a1a" stroke-width="0.14">1111K9</text>
<text x="711.8" y="307.4" font-size="10.5" fill="#1a1a1a" stroke="#1a1a1a" stroke-width="0.14">CẦN ĐẨY XU PÁP XẢ(MỘT)</text>
<text x="942" y="307.4" font-size="10.3" text-anchor="end" fill="#1a1a1a" stroke="#1a1a1a" stroke-width="0.14">2,1</text>
<line x1="847.6" y1="306.79999999999995" x2="927.5" y2="306.79999999999995" stroke="#3a3a3a" stroke-width="1" stroke-dasharray="1 0.8"/>
<text x="711.8" y="319.0" font-size="10.5" fill="#1a1a1a" stroke="#1a1a1a" stroke-width="0.14">.BAO GỒM: Điều chỉnh xu páp</text>
<line x1="847.0" y1="318.4" x2="929.5" y2="318.4" stroke="#3a3a3a" stroke-width="1" stroke-dasharray="1 0.8"/>
<text x="669.6" y="330.6" font-size="10.3" fill="#1a1a1a" stroke="#1a1a1a" stroke-width="0.14">1111L8</text>
<text x="711.8" y="330.6" font-size="10.5" fill="#1a1a1a" stroke="#1a1a1a" stroke-width="0.14">CẦN ĐẨY XU PÁP</text>
<line x1="799.5" y1="330.0" x2="929.5" y2="330.0" stroke="#3a3a3a" stroke-width="1" stroke-dasharray="1 0.8"/>
<text x="711.8" y="342.2" font-size="10.5" fill="#1a1a1a" stroke="#1a1a1a" stroke-width="0.14">:CHO MỘT XE</text>
<text x="942" y="342.2" font-size="10.3" text-anchor="end" fill="#1a1a1a" stroke="#1a1a1a" stroke-width="0.14">2,1</text>
<line x1="780.0" y1="341.59999999999997" x2="927.5" y2="341.59999999999997" stroke="#3a3a3a" stroke-width="1" stroke-dasharray="1 0.8"/>
<text x="711.8" y="353.8" font-size="10.5" fill="#1a1a1a" stroke="#1a1a1a" stroke-width="0.14">.BAO GỒM: Điều chỉnh xu páp</text>
<line x1="847.0" y1="353.2" x2="929.5" y2="353.2" stroke="#3a3a3a" stroke-width="1" stroke-dasharray="1 0.8"/>
<text x="665.9" y="365.4" font-size="10.3" text-anchor="end" fill="#1a1a1a" stroke="#1a1a1a" stroke-width="0.14">7</text>
<text x="669.6" y="365.4" font-size="10.3" fill="#1a1a1a" stroke="#1a1a1a" stroke-width="0.14">1111N0</text>
<text x="711.8" y="365.4" font-size="10.5" fill="#1a1a1a" stroke="#1a1a1a" stroke-width="0.14">XU PÁP NẠP(MỘT)</text>
<text x="942" y="365.4" font-size="10.3" text-anchor="end" fill="#1a1a1a" stroke="#1a1a1a" stroke-width="0.14">3,6</text>
<line x1="803.3" y1="364.79999999999995" x2="927.5" y2="364.79999999999995" stroke="#3a3a3a" stroke-width="1" stroke-dasharray="1 0.8"/>
<text x="711.8" y="377.0" font-size="10.5" fill="#1a1a1a" stroke="#1a1a1a" stroke-width="0.14">.BAO GỒM:</text>
<line x1="767.1" y1="376.4" x2="929.5" y2="376.4" stroke="#3a3a3a" stroke-width="1" stroke-dasharray="1 0.8"/>
<text x="711.8" y="388.6" font-size="10.7" fill="#1a1a1a" stroke="#1a1a1a" stroke-width="0.14">Tháo lắp động cơ</text>
<line x1="787.1" y1="388.0" x2="929.5" y2="388.0" stroke="#3a3a3a" stroke-width="1" stroke-dasharray="1 0.8"/>
<text x="711.8" y="400.2" font-size="10.5" fill="#1a1a1a" stroke="#1a1a1a" stroke-width="0.14">.BAO GỒM: Doa Xu páp</text>
<line x1="820.5" y1="399.59999999999997" x2="929.5" y2="399.59999999999997" stroke="#3a3a3a" stroke-width="1" stroke-dasharray="1 0.8"/>
<text x="665.9" y="411.8" font-size="10.3" text-anchor="end" fill="#1a1a1a" stroke="#1a1a1a" stroke-width="0.14">8</text>
<text x="669.6" y="411.8" font-size="10.3" fill="#1a1a1a" stroke="#1a1a1a" stroke-width="0.14">1111N1</text>
<text x="711.8" y="411.8" font-size="10.5" fill="#1a1a1a" stroke="#1a1a1a" stroke-width="0.14">XU PÁP XẢ(MỘT)</text>
<text x="942" y="411.8" font-size="10.3" text-anchor="end" fill="#1a1a1a" stroke="#1a1a1a" stroke-width="0.14">3,6</text>
<line x1="797.5" y1="411.2" x2="927.5" y2="411.2" stroke="#3a3a3a" stroke-width="1" stroke-dasharray="1 0.8"/>
<text x="711.8" y="423.4" font-size="10.5" fill="#1a1a1a" stroke="#1a1a1a" stroke-width="0.14">.BAO GỒM:</text>
<line x1="767.1" y1="422.79999999999995" x2="929.5" y2="422.79999999999995" stroke="#3a3a3a" stroke-width="1" stroke-dasharray="1 0.8"/>
<text x="711.8" y="435.0" font-size="10.7" fill="#1a1a1a" stroke="#1a1a1a" stroke-width="0.14">Tháo lắp động cơ</text>
<line x1="787.1" y1="434.4" x2="929.5" y2="434.4" stroke="#3a3a3a" stroke-width="1" stroke-dasharray="1 0.8"/>
<text x="711.8" y="446.6" font-size="10.5" fill="#1a1a1a" stroke="#1a1a1a" stroke-width="0.14">.BAO GỒM: Doa Xu páp</text>
<line x1="820.5" y1="446.0" x2="929.5" y2="446.0" stroke="#3a3a3a" stroke-width="1" stroke-dasharray="1 0.8"/>
<text x="669.6" y="458.2" font-size="10.3" fill="#1a1a1a" stroke="#1a1a1a" stroke-width="0.14">1111P0</text>
<text x="711.8" y="458.2" font-size="10.5" fill="#1a1a1a" stroke="#1a1a1a" stroke-width="0.14">XU PÁP (CHO MỘT XE)</text>
<text x="942" y="458.2" font-size="10.3" text-anchor="end" fill="#1a1a1a" stroke="#1a1a1a" stroke-width="0.14">3,8</text>
<line x1="823.7" y1="457.59999999999997" x2="927.5" y2="457.59999999999997" stroke="#3a3a3a" stroke-width="1" stroke-dasharray="1 0.8"/>
<text x="711.8" y="469.8" font-size="10.5" fill="#1a1a1a" stroke="#1a1a1a" stroke-width="0.14">.BAO GỒM:</text>
<line x1="767.1" y1="469.2" x2="929.5" y2="469.2" stroke="#3a3a3a" stroke-width="1" stroke-dasharray="1 0.8"/>
<text x="711.8" y="481.4" font-size="10.7" fill="#1a1a1a" stroke="#1a1a1a" stroke-width="0.14">Tháo lắp động cơ</text>
<line x1="787.1" y1="480.79999999999995" x2="929.5" y2="480.79999999999995" stroke="#3a3a3a" stroke-width="1" stroke-dasharray="1 0.8"/>
<text x="711.8" y="493.0" font-size="10.5" fill="#1a1a1a" stroke="#1a1a1a" stroke-width="0.14">.BAO GỒM: Doa Xu páp</text>
<line x1="820.5" y1="492.4" x2="929.5" y2="492.4" stroke="#3a3a3a" stroke-width="1" stroke-dasharray="1 0.8"/>
<text x="48.9" y="520.9" font-size="10.3" textLength="18" lengthAdjust="spacingAndGlyphs" fill="#1a1a1a" stroke="#1a1a1a" stroke-width="0.14">STT</text>
<text x="80.6" y="520.9" font-size="10.3" fill="#1a1a1a" stroke="#1a1a1a" stroke-width="0.14">Mã phụ tùng</text>
<text x="251.8" y="521" font-size="10.3" textLength="61.5" lengthAdjust="spacingAndGlyphs" fill="#1a1a1a" stroke="#1a1a1a" stroke-width="0.14">Tên tiếng Anh</text>
<text x="446.2" y="508.3" font-size="10.3" fill="#1a1a1a" stroke="#1a1a1a" stroke-width="0.14">Số lượng</text>
<text x="438.2" y="520.8" font-size="10.3" textLength="56.8" lengthAdjust="spacingAndGlyphs" fill="#1a1a1a" stroke="#1a1a1a" stroke-width="0.14">ACA125CBF</text>
<text x="452" y="533.7" font-size="10.3" fill="#1a1a1a" stroke="#1a1a1a" stroke-width="0.14">D</text>
<text x="472" y="533.7" font-size="10.3" fill="#1a1a1a" stroke="#1a1a1a" stroke-width="0.14">E</text>
<text x="535.3" y="520.8" font-size="10.3" fill="#1a1a1a" stroke="#1a1a1a" stroke-width="0.14">Số seri</text>
<text x="685.3" y="520.8" font-size="10.3" textLength="62.3" lengthAdjust="spacingAndGlyphs" fill="#1a1a1a" stroke="#1a1a1a" stroke-width="0.14">Tên tiếng Việt</text>
<text x="53.2" y="550.55" font-size="10.3" fill="#1a1a1a" stroke="#1a1a1a" stroke-width="0.14">1</text>
<text x="76.8" y="550.55" font-size="10.2" fill="#1a1a1a" stroke="#1a1a1a" stroke-width="0.14">12209-GB4-681</text>
<text x="171.3" y="550.55" font-size="10.6" fill="#1a1a1a" stroke="#1a1a1a" stroke-width="0.14">SEAL, VALVE STEM(NOK)</text>
<line x1="319.9" y1="549.9499999999999" x2="444.5" y2="549.9499999999999" stroke="#3a3a3a" stroke-width="1" stroke-dasharray="1 0.8"/>
<text x="452.6" y="550.55" font-size="10.3" fill="#1a1a1a" stroke="#1a1a1a" stroke-width="0.14">2</text>
<text x="473" y="550.55" font-size="10.3" fill="#1a1a1a" stroke="#1a1a1a" stroke-width="0.14">2</text>
<line x1="489.3" y1="548.05" x2="491.90000000000003" y2="548.05" stroke="#888" stroke-width="0.7"/>
<line x1="500.1" y1="548.05" x2="502.70000000000005" y2="548.05" stroke="#888" stroke-width="0.7"/>
<line x1="510.90000000000003" y1="548.05" x2="513.5" y2="548.05" stroke="#888" stroke-width="0.7"/>
<line x1="521.7" y1="548.05" x2="524.3000000000001" y2="548.05" stroke="#888" stroke-width="0.7"/>
<line x1="532.5" y1="548.05" x2="535.1" y2="548.05" stroke="#888" stroke-width="0.7"/>
<line x1="543.3" y1="548.05" x2="545.9" y2="548.05" stroke="#888" stroke-width="0.7"/>
<text x="669.2" y="550.55" font-size="10.4" fill="#1a1a1a" stroke="#1a1a1a" stroke-width="0.14">PHỚT THÂN XU PÁP(NOK)</text>
<text x="76.8" y="561.77" font-size="10.2" fill="#1a1a1a" stroke="#1a1a1a" stroke-width="0.14">12209-GB4-682</text>
<text x="171.3" y="561.77" font-size="10.6" fill="#1a1a1a" stroke="#1a1a1a" stroke-width="0.14">SEAL, VALVE STEM(ARAI)</text>
<line x1="319.9" y1="561.17" x2="444.5" y2="561.17" stroke="#3a3a3a" stroke-width="1" stroke-dasharray="1 0.8"/>
<text x="452.6" y="561.77" font-size="10.3" fill="#1a1a1a" stroke="#1a1a1a" stroke-width="0.14">2</text>
<text x="473" y="561.77" font-size="10.3" fill="#1a1a1a" stroke="#1a1a1a" stroke-width="0.14">2</text>
<line x1="489.3" y1="559.27" x2="491.90000000000003" y2="559.27" stroke="#888" stroke-width="0.7"/>
<line x1="500.1" y1="559.27" x2="502.70000000000005" y2="559.27" stroke="#888" stroke-width="0.7"/>
<line x1="510.90000000000003" y1="559.27" x2="513.5" y2="559.27" stroke="#888" stroke-width="0.7"/>
<line x1="521.7" y1="559.27" x2="524.3000000000001" y2="559.27" stroke="#888" stroke-width="0.7"/>
<line x1="532.5" y1="559.27" x2="535.1" y2="559.27" stroke="#888" stroke-width="0.7"/>
<line x1="543.3" y1="559.27" x2="545.9" y2="559.27" stroke="#888" stroke-width="0.7"/>
<text x="669.2" y="561.77" font-size="10.4" fill="#1a1a1a" stroke="#1a1a1a" stroke-width="0.14">PHỚT THÂN XU PÁP(ARAI</text>
<text x="53.2" y="572.38" font-size="10.3" fill="#1a1a1a" stroke="#1a1a1a" stroke-width="0.14">2</text>
<text x="76.8" y="572.38" font-size="10.2" fill="#1a1a1a" stroke="#1a1a1a" stroke-width="0.14">14100-KZR-600</text>
<text x="171.3" y="572.38" font-size="10.6" fill="#1a1a1a" stroke="#1a1a1a" stroke-width="0.14">CAMSHAFT COMP.</text>
<line x1="303" y1="571.78" x2="444.5" y2="571.78" stroke="#3a3a3a" stroke-width="1" stroke-dasharray="1 0.8"/>
<text x="452.6" y="572.38" font-size="10.3" fill="#1a1a1a" stroke="#1a1a1a" stroke-width="0.14">1</text>
<line x1="469" y1="570.18" x2="471.5" y2="570.18" stroke="#777" stroke-width="0.7"/>
<line x1="489.3" y1="569.88" x2="491.90000000000003" y2="569.88" stroke="#888" stroke-width="0.7"/>
<line x1="500.1" y1="569.88" x2="502.70000000000005" y2="569.88" stroke="#888" stroke-width="0.7"/>
<line x1="510.90000000000003" y1="569.88" x2="513.5" y2="569.88" stroke="#888" stroke-width="0.7"/>
<line x1="521.7" y1="569.88" x2="524.3000000000001" y2="569.88" stroke="#888" stroke-width="0.7"/>
<line x1="532.5" y1="569.88" x2="535.1" y2="569.88" stroke="#888" stroke-width="0.7"/>
<line x1="543.3" y1="569.88" x2="545.9" y2="569.88" stroke="#888" stroke-width="0.7"/>
<line x1="550.4" y1="569.88" x2="584.7" y2="569.88" stroke="#444" stroke-width="0.8" stroke-dasharray="2.2 1"/>
<text x="591.5" y="572.38" font-size="10.9" fill="#1a1a1a" stroke="#1a1a1a" stroke-width="0.14">2V,3V,V</text>
<text x="669.2" y="572.38" font-size="10.4" fill="#1a1a1a" stroke="#1a1a1a" stroke-width="0.14">CỤM TRỤC CAM</text>
<text x="76.8" y="583.6" font-size="10.2" fill="#1a1a1a" stroke="#1a1a1a" stroke-width="0.14">14100-KZR-601</text>
<text x="452.6" y="583.6" font-size="10.3" fill="#1a1a1a" stroke="#1a1a1a" stroke-width="0.14">1</text>
<line x1="469" y1="581.4" x2="471.5" y2="581.4" stroke="#777" stroke-width="0.7"/>
<line x1="489.3" y1="581.1" x2="491.90000000000003" y2="581.1" stroke="#888" stroke-width="0.7"/>
<line x1="500.1" y1="581.1" x2="502.70000000000005" y2="581.1" stroke="#888" stroke-width="0.7"/>
<line x1="510.90000000000003" y1="581.1" x2="513.5" y2="581.1" stroke="#888" stroke-width="0.7"/>
<line x1="521.7" y1="581.1" x2="524.3000000000001" y2="581.1" stroke="#888" stroke-width="0.7"/>
<line x1="532.5" y1="581.1" x2="535.1" y2="581.1" stroke="#888" stroke-width="0.7"/>
<line x1="543.3" y1="581.1" x2="545.9" y2="581.1" stroke="#888" stroke-width="0.7"/>
<line x1="550.4" y1="581.1" x2="584.7" y2="581.1" stroke="#444" stroke-width="0.8" stroke-dasharray="2.2 1"/>
<text x="591.5" y="583.6" font-size="10.9" fill="#1a1a1a" stroke="#1a1a1a" stroke-width="0.14">4V,5V</text>
<text x="76.8" y="594.52" font-size="10.2" fill="#1a1a1a" stroke="#1a1a1a" stroke-width="0.14">14100-K35-J00</text>
<line x1="449" y1="592.3199999999999" x2="451.5" y2="592.3199999999999" stroke="#777" stroke-width="0.7"/>
<text x="473" y="594.52" font-size="10.3" fill="#1a1a1a" stroke="#1a1a1a" stroke-width="0.14">1</text>
<line x1="489.3" y1="592.02" x2="491.90000000000003" y2="592.02" stroke="#888" stroke-width="0.7"/>
<line x1="500.1" y1="592.02" x2="502.70000000000005" y2="592.02" stroke="#888" stroke-width="0.7"/>
<line x1="510.90000000000003" y1="592.02" x2="513.5" y2="592.02" stroke="#888" stroke-width="0.7"/>
<line x1="521.7" y1="592.02" x2="524.3000000000001" y2="592.02" stroke="#888" stroke-width="0.7"/>
<line x1="532.5" y1="592.02" x2="535.1" y2="592.02" stroke="#888" stroke-width="0.7"/>
<line x1="543.3" y1="592.02" x2="545.9" y2="592.02" stroke="#888" stroke-width="0.7"/>
<text x="53.2" y="605.64" font-size="10.3" fill="#1a1a1a" stroke="#1a1a1a" stroke-width="0.14">3</text>
<text x="76.8" y="605.64" font-size="10.2" fill="#1a1a1a" stroke="#1a1a1a" stroke-width="0.14">14321-KWN-900</text>
<text x="171.3" y="605.64" font-size="10.6" fill="#1a1a1a" stroke="#1a1a1a" stroke-width="0.14">SPROCKET, CAM(34T)</text>
<line x1="307.4" y1="605.04" x2="444.5" y2="605.04" stroke="#3a3a3a" stroke-width="1" stroke-dasharray="1 0.8"/>
<text x="452.6" y="605.64" font-size="10.3" fill="#1a1a1a" stroke="#1a1a1a" stroke-width="0.14">1</text>
<text x="473" y="605.64" font-size="10.3" fill="#1a1a1a" stroke="#1a1a1a" stroke-width="0.14">1</text>
<line x1="489.3" y1="603.14" x2="491.90000000000003" y2="603.14" stroke="#888" stroke-width="0.7"/>
<line x1="500.1" y1="603.14" x2="502.70000000000005" y2="603.14" stroke="#888" stroke-width="0.7"/>
<line x1="510.90000000000003" y1="603.14" x2="513.5" y2="603.14" stroke="#888" stroke-width="0.7"/>
<line x1="521.7" y1="603.14" x2="524.3000000000001" y2="603.14" stroke="#888" stroke-width="0.7"/>
<line x1="532.5" y1="603.14" x2="535.1" y2="603.14" stroke="#888" stroke-width="0.7"/>
<line x1="543.3" y1="603.14" x2="545.9" y2="603.14" stroke="#888" stroke-width="0.7"/>
<text x="669.2" y="605.64" font-size="10.4" fill="#1a1a1a" stroke="#1a1a1a" stroke-width="0.14">NHÔNG CAM(34 RĂNG)</text>
<text x="53.2" y="616.76" font-size="10.3" fill="#1a1a1a" stroke="#1a1a1a" stroke-width="0.14">4</text>
<text x="76.8" y="616.76" font-size="10.2" fill="#1a1a1a" stroke="#1a1a1a" stroke-width="0.14">14430-KZR-600</text>
<text x="171.3" y="616.76" font-size="10.6" fill="#1a1a1a" stroke="#1a1a1a" stroke-width="0.14">ARM COMP., IN. VALVE ROCKER</text>
<line x1="338.1" y1="616.16" x2="444.5" y2="616.16" stroke="#3a3a3a" stroke-width="1" stroke-dasharray="1 0.8"/>
<text x="452.6" y="616.76" font-size="10.3" fill="#1a1a1a" stroke="#1a1a1a" stroke-width="0.14">1</text>
<text x="473" y="616.76" font-size="10.3" fill="#1a1a1a" stroke="#1a1a1a" stroke-width="0.14">1</text>
<line x1="489.3" y1="614.26" x2="491.90000000000003" y2="614.26" stroke="#888" stroke-width="0.7"/>
<line x1="500.1" y1="614.26" x2="502.70000000000005" y2="614.26" stroke="#888" stroke-width="0.7"/>
<line x1="510.90000000000003" y1="614.26" x2="513.5" y2="614.26" stroke="#888" stroke-width="0.7"/>
<line x1="521.7" y1="614.26" x2="524.3000000000001" y2="614.26" stroke="#888" stroke-width="0.7"/>
<line x1="532.5" y1="614.26" x2="535.1" y2="614.26" stroke="#888" stroke-width="0.7"/>
<line x1="543.3" y1="614.26" x2="545.9" y2="614.26" stroke="#888" stroke-width="0.7"/>
<text x="669.2" y="616.76" font-size="10.4" fill="#1a1a1a" stroke="#1a1a1a" stroke-width="0.14">BỘ CÒ MỔ XU PÁP HÚT</text>
<text x="53.2" y="627.87" font-size="10.3" fill="#1a1a1a" stroke="#1a1a1a" stroke-width="0.14">5</text>
<text x="76.8" y="627.87" font-size="10.2" fill="#1a1a1a" stroke="#1a1a1a" stroke-width="0.14">14440-KZR-600</text>
<text x="171.3" y="627.87" font-size="10.6" fill="#1a1a1a" stroke="#1a1a1a" stroke-width="0.14">ARM COMP., EX. VALVE ROCKER</text>
<line x1="341.1" y1="627.27" x2="444.5" y2="627.27" stroke="#3a3a3a" stroke-width="1" stroke-dasharray="1 0.8"/>
<text x="452.6" y="627.87" font-size="10.3" fill="#1a1a1a" stroke="#1a1a1a" stroke-width="0.14">1</text>
<text x="473" y="627.87" font-size="10.3" fill="#1a1a1a" stroke="#1a1a1a" stroke-width="0.14">1</text>
<line x1="489.3" y1="625.37" x2="491.90000000000003" y2="625.37" stroke="#888" stroke-width="0.7"/>
<line x1="500.1" y1="625.37" x2="502.70000000000005" y2="625.37" stroke="#888" stroke-width="0.7"/>
<line x1="510.90000000000003" y1="625.37" x2="513.5" y2="625.37" stroke="#888" stroke-width="0.7"/>
<line x1="521.7" y1="625.37" x2="524.3000000000001" y2="625.37" stroke="#888" stroke-width="0.7"/>
<line x1="532.5" y1="625.37" x2="535.1" y2="625.37" stroke="#888" stroke-width="0.7"/>
<line x1="543.3" y1="625.37" x2="545.9" y2="625.37" stroke="#888" stroke-width="0.7"/>
<text x="669.2" y="627.87" font-size="10.4" fill="#1a1a1a" stroke="#1a1a1a" stroke-width="0.14">BỘ CÒ MỔ XU PÁP XẢ</text>
<text x="53.2" y="645.7" font-size="10.3" fill="#1a1a1a" stroke="#1a1a1a" stroke-width="0.14">6</text>
<text x="76.8" y="645.7" font-size="10.2" fill="#1a1a1a" stroke="#1a1a1a" stroke-width="0.14">14451-KZR-600</text>
<text x="171.3" y="645.7" font-size="10.6" fill="#1a1a1a" stroke="#1a1a1a" stroke-width="0.14">SHAFT, ROCKER ARM</text>
<line x1="310.3" y1="645.1" x2="444.5" y2="645.1" stroke="#3a3a3a" stroke-width="1" stroke-dasharray="1 0.8"/>
<text x="452.6" y="645.7" font-size="10.3" fill="#1a1a1a" stroke="#1a1a1a" stroke-width="0.14">2</text>
<text x="473" y="645.7" font-size="10.3" fill="#1a1a1a" stroke="#1a1a1a" stroke-width="0.14">2</text>
<line x1="489.3" y1="643.2" x2="491.90000000000003" y2="643.2" stroke="#888" stroke-width="0.7"/>
<line x1="500.1" y1="643.2" x2="502.70000000000005" y2="643.2" stroke="#888" stroke-width="0.7"/>
<line x1="510.90000000000003" y1="643.2" x2="513.5" y2="643.2" stroke="#888" stroke-width="0.7"/>
<line x1="521.7" y1="643.2" x2="524.3000000000001" y2="643.2" stroke="#888" stroke-width="0.7"/>
<line x1="532.5" y1="643.2" x2="535.1" y2="643.2" stroke="#888" stroke-width="0.7"/>
<line x1="543.3" y1="643.2" x2="545.9" y2="643.2" stroke="#888" stroke-width="0.7"/>
<text x="669.2" y="645.7" font-size="10.4" fill="#1a1a1a" stroke="#1a1a1a" stroke-width="0.14">TRỤC CÒ MỔ</text>
<text x="53.2" y="656.92" font-size="10.3" fill="#1a1a1a" stroke="#1a1a1a" stroke-width="0.14">7</text>
<text x="76.8" y="656.92" font-size="10.2" fill="#1a1a1a" stroke="#1a1a1a" stroke-width="0.14">14711-KWN-900</text>
<text x="171.3" y="656.92" font-size="10.6" fill="#1a1a1a" stroke="#1a1a1a" stroke-width="0.14">VALVE, IN.</text>
<line x1="276" y1="656.3199999999999" x2="444.5" y2="656.3199999999999" stroke="#3a3a3a" stroke-width="1" stroke-dasharray="1 0.8"/>
<text x="452.6" y="656.92" font-size="10.3" fill="#1a1a1a" stroke="#1a1a1a" stroke-width="0.14">1</text>
<text x="473" y="656.92" font-size="10.3" fill="#1a1a1a" stroke="#1a1a1a" stroke-width="0.14">1</text>
<line x1="489.3" y1="654.42" x2="491.90000000000003" y2="654.42" stroke="#888" stroke-width="0.7"/>
<line x1="500.1" y1="654.42" x2="502.70000000000005" y2="654.42" stroke="#888" stroke-width="0.7"/>
<line x1="510.90000000000003" y1="654.42" x2="513.5" y2="654.42" stroke="#888" stroke-width="0.7"/>
<line x1="521.7" y1="654.42" x2="524.3000000000001" y2="654.42" stroke="#888" stroke-width="0.7"/>
<line x1="532.5" y1="654.42" x2="535.1" y2="654.42" stroke="#888" stroke-width="0.7"/>
<line x1="543.3" y1="654.42" x2="545.9" y2="654.42" stroke="#888" stroke-width="0.7"/>
<text x="669.2" y="656.92" font-size="10.4" fill="#1a1a1a" stroke="#1a1a1a" stroke-width="0.14">XU PÁP NẠP</text>
<text x="53.2" y="667.84" font-size="10.3" fill="#1a1a1a" stroke="#1a1a1a" stroke-width="0.14">8</text>
<text x="76.8" y="667.84" font-size="10.2" fill="#1a1a1a" stroke="#1a1a1a" stroke-width="0.14">14721-KWN-900</text>
<text x="171.3" y="667.84" font-size="10.6" fill="#1a1a1a" stroke="#1a1a1a" stroke-width="0.14">VALVE, EX.</text>
<line x1="279.2" y1="667.24" x2="444.5" y2="667.24" stroke="#3a3a3a" stroke-width="1" stroke-dasharray="1 0.8"/>
<text x="452.6" y="667.84" font-size="10.3" fill="#1a1a1a" stroke="#1a1a1a" stroke-width="0.14">1</text>
<text x="473" y="667.84" font-size="10.3" fill="#1a1a1a" stroke="#1a1a1a" stroke-width="0.14">1</text>
<line x1="489.3" y1="665.34" x2="491.90000000000003" y2="665.34" stroke="#888" stroke-width="0.7"/>
<line x1="500.1" y1="665.34" x2="502.70000000000005" y2="665.34" stroke="#888" stroke-width="0.7"/>
<line x1="510.90000000000003" y1="665.34" x2="513.5" y2="665.34" stroke="#888" stroke-width="0.7"/>
<line x1="521.7" y1="665.34" x2="524.3000000000001" y2="665.34" stroke="#888" stroke-width="0.7"/>
<line x1="532.5" y1="665.34" x2="535.1" y2="665.34" stroke="#888" stroke-width="0.7"/>
<line x1="543.3" y1="665.34" x2="545.9" y2="665.34" stroke="#888" stroke-width="0.7"/>
<text x="669.2" y="667.84" font-size="10.4" fill="#1a1a1a" stroke="#1a1a1a" stroke-width="0.14">XU PÁP XẢ</text>
<text x="53.2" y="678.75" font-size="10.3" fill="#1a1a1a" stroke="#1a1a1a" stroke-width="0.14">9</text>
<text x="76.8" y="678.75" font-size="10.2" fill="#1a1a1a" stroke="#1a1a1a" stroke-width="0.14">14751-KWN-900</text>
<text x="171.3" y="678.75" font-size="10.6" fill="#1a1a1a" stroke="#1a1a1a" stroke-width="0.14">SPRING, VALVE</text>
<line x1="291.8" y1="678.15" x2="444.5" y2="678.15" stroke="#3a3a3a" stroke-width="1" stroke-dasharray="1 0.8"/>
<text x="452.6" y="678.75" font-size="10.3" fill="#1a1a1a" stroke="#1a1a1a" stroke-width="0.14">2</text>
<text x="473" y="678.75" font-size="10.3" fill="#1a1a1a" stroke="#1a1a1a" stroke-width="0.14">2</text>
<line x1="489.3" y1="676.25" x2="491.90000000000003" y2="676.25" stroke="#888" stroke-width="0.7"/>
<line x1="500.1" y1="676.25" x2="502.70000000000005" y2="676.25" stroke="#888" stroke-width="0.7"/>
<line x1="510.90000000000003" y1="676.25" x2="513.5" y2="676.25" stroke="#888" stroke-width="0.7"/>
<line x1="521.7" y1="676.25" x2="524.3000000000001" y2="676.25" stroke="#888" stroke-width="0.7"/>
<line x1="532.5" y1="676.25" x2="535.1" y2="676.25" stroke="#888" stroke-width="0.7"/>
<line x1="543.3" y1="676.25" x2="545.9" y2="676.25" stroke="#888" stroke-width="0.7"/>
<text x="669.2" y="678.75" font-size="10.4" fill="#1a1a1a" stroke="#1a1a1a" stroke-width="0.14">LÒ XO XU PÁP</text>
<text x="53.2" y="689.97" font-size="10.3" fill="#1a1a1a" stroke="#1a1a1a" stroke-width="0.14">10</text>
<text x="76.8" y="689.97" font-size="10.2" fill="#1a1a1a" stroke="#1a1a1a" stroke-width="0.14">14771-KWN-900</text>
<text x="171.3" y="689.97" font-size="10.6" fill="#1a1a1a" stroke="#1a1a1a" stroke-width="0.14">RETAINER, VALVE SPRING</text>
<line x1="322.6" y1="689.37" x2="444.5" y2="689.37" stroke="#3a3a3a" stroke-width="1" stroke-dasharray="1 0.8"/>
<text x="452.6" y="689.97" font-size="10.3" fill="#1a1a1a" stroke="#1a1a1a" stroke-width="0.14">2</text>
<text x="473" y="689.97" font-size="10.3" fill="#1a1a1a" stroke="#1a1a1a" stroke-width="0.14">2</text>
<line x1="489.3" y1="687.47" x2="491.90000000000003" y2="687.47" stroke="#888" stroke-width="0.7"/>
<line x1="500.1" y1="687.47" x2="502.70000000000005" y2="687.47" stroke="#888" stroke-width="0.7"/>
<line x1="510.90000000000003" y1="687.47" x2="513.5" y2="687.47" stroke="#888" stroke-width="0.7"/>
<line x1="521.7" y1="687.47" x2="524.3000000000001" y2="687.47" stroke="#888" stroke-width="0.7"/>
<line x1="532.5" y1="687.47" x2="535.1" y2="687.47" stroke="#888" stroke-width="0.7"/>
<line x1="543.3" y1="687.47" x2="545.9" y2="687.47" stroke="#888" stroke-width="0.7"/>
<text x="669.2" y="689.97" font-size="10.4" fill="#1a1a1a" stroke="#1a1a1a" stroke-width="0.14">VÒNG GIỮ LÒ XO XUPAP</text>
<text x="53.2" y="707.9" font-size="10.3" fill="#1a1a1a" stroke="#1a1a1a" stroke-width="0.14">11</text>
<text x="76.8" y="707.9" font-size="10.2" fill="#1a1a1a" stroke="#1a1a1a" stroke-width="0.14">14775-KZR-600</text>
<text x="171.3" y="707.9" font-size="10.6" fill="#1a1a1a" stroke="#1a1a1a" stroke-width="0.14">SEAT, VALVE SPRING</text>
<line x1="307.3" y1="707.3" x2="444.5" y2="707.3" stroke="#3a3a3a" stroke-width="1" stroke-dasharray="1 0.8"/>
<text x="452.6" y="707.9" font-size="10.3" fill="#1a1a1a" stroke="#1a1a1a" stroke-width="0.14">2</text>
<text x="473" y="707.9" font-size="10.3" fill="#1a1a1a" stroke="#1a1a1a" stroke-width="0.14">2</text>
<line x1="489.3" y1="705.4" x2="491.90000000000003" y2="705.4" stroke="#888" stroke-width="0.7"/>
<line x1="500.1" y1="705.4" x2="502.70000000000005" y2="705.4" stroke="#888" stroke-width="0.7"/>
<line x1="510.90000000000003" y1="705.4" x2="513.5" y2="705.4" stroke="#888" stroke-width="0.7"/>
<line x1="521.7" y1="705.4" x2="524.3000000000001" y2="705.4" stroke="#888" stroke-width="0.7"/>
<line x1="532.5" y1="705.4" x2="535.1" y2="705.4" stroke="#888" stroke-width="0.7"/>
<line x1="543.3" y1="705.4" x2="545.9" y2="705.4" stroke="#888" stroke-width="0.7"/>
<text x="669.2" y="707.9" font-size="10.4" fill="#1a1a1a" stroke="#1a1a1a" stroke-width="0.14">ĐẾ LÒ XO XUPAP</text>
<text x="53.2" y="719.02" font-size="10.3" fill="#1a1a1a" stroke="#1a1a1a" stroke-width="0.14">12</text>
<text x="76.8" y="719.02" font-size="10.2" fill="#1a1a1a" stroke="#1a1a1a" stroke-width="0.14">14781-MA6-000</text>
<text x="171.3" y="719.02" font-size="10.6" fill="#1a1a1a" stroke="#1a1a1a" stroke-width="0.14">COTTER, VALVE</text>
<line x1="295" y1="718.42" x2="444.5" y2="718.42" stroke="#3a3a3a" stroke-width="1" stroke-dasharray="1 0.8"/>
<text x="452.6" y="719.02" font-size="10.3" fill="#1a1a1a" stroke="#1a1a1a" stroke-width="0.14">4</text>
<text x="473" y="719.02" font-size="10.3" fill="#1a1a1a" stroke="#1a1a1a" stroke-width="0.14">4</text>
<line x1="489.3" y1="716.52" x2="491.90000000000003" y2="716.52" stroke="#888" stroke-width="0.7"/>
<line x1="500.1" y1="716.52" x2="502.70000000000005" y2="716.52" stroke="#888" stroke-width="0.7"/>
<line x1="510.90000000000003" y1="716.52" x2="513.5" y2="716.52" stroke="#888" stroke-width="0.7"/>
<line x1="521.7" y1="716.52" x2="524.3000000000001" y2="716.52" stroke="#888" stroke-width="0.7"/>
<line x1="532.5" y1="716.52" x2="535.1" y2="716.52" stroke="#888" stroke-width="0.7"/>
<line x1="543.3" y1="716.52" x2="545.9" y2="716.52" stroke="#888" stroke-width="0.7"/>
<text x="669.2" y="719.02" font-size="10.4" fill="#1a1a1a" stroke="#1a1a1a" stroke-width="0.14">MÓNG GIỮ LÒ XO XUPAP</text>
<text x="53.2" y="730.04" font-size="10.3" fill="#1a1a1a" stroke="#1a1a1a" stroke-width="0.14">13</text>
<text x="76.8" y="730.04" font-size="10.2" fill="#1a1a1a" stroke="#1a1a1a" stroke-width="0.14">90002-KWB-600</text>
<text x="171.3" y="730.04" font-size="10.6" fill="#1a1a1a" stroke="#1a1a1a" stroke-width="0.14">BOLT, FLANGE, 5X12</text>
<line x1="303.3" y1="729.4399999999999" x2="444.5" y2="729.4399999999999" stroke="#3a3a3a" stroke-width="1" stroke-dasharray="1 0.8"/>
<text x="452.6" y="730.04" font-size="10.3" fill="#1a1a1a" stroke="#1a1a1a" stroke-width="0.14">2</text>
<text x="473" y="730.04" font-size="10.3" fill="#1a1a1a" stroke="#1a1a1a" stroke-width="0.14">2</text>
<line x1="489.3" y1="727.54" x2="491.90000000000003" y2="727.54" stroke="#888" stroke-width="0.7"/>
<line x1="500.1" y1="727.54" x2="502.70000000000005" y2="727.54" stroke="#888" stroke-width="0.7"/>
<line x1="510.90000000000003" y1="727.54" x2="513.5" y2="727.54" stroke="#888" stroke-width="0.7"/>
<line x1="521.7" y1="727.54" x2="524.3000000000001" y2="727.54" stroke="#888" stroke-width="0.7"/>
<line x1="532.5" y1="727.54" x2="535.1" y2="727.54" stroke="#888" stroke-width="0.7"/>
<line x1="543.3" y1="727.54" x2="545.9" y2="727.54" stroke="#888" stroke-width="0.7"/>
<text x="669.2" y="730.04" font-size="10.4" fill="#1a1a1a" stroke="#1a1a1a" stroke-width="0.14">BU LÔNG 5X12</text>
<text x="53.2" y="740.95" font-size="10.3" fill="#1a1a1a" stroke="#1a1a1a" stroke-width="0.14">14</text>
<text x="76.8" y="740.95" font-size="10.2" fill="#1a1a1a" stroke="#1a1a1a" stroke-width="0.14">90012-KWB-600</text>
<text x="171.3" y="740.95" font-size="10.6" fill="#1a1a1a" stroke="#1a1a1a" stroke-width="0.14">SCREW, TAPPET ADJUSTING</text>
<line x1="327.9" y1="740.35" x2="444.5" y2="740.35" stroke="#3a3a3a" stroke-width="1" stroke-dasharray="1 0.8"/>
<text x="452.6" y="740.95" font-size="10.3" fill="#1a1a1a" stroke="#1a1a1a" stroke-width="0.14">2</text>
<text x="473" y="740.95" font-size="10.3" fill="#1a1a1a" stroke="#1a1a1a" stroke-width="0.14">2</text>
<line x1="489.3" y1="738.45" x2="491.90000000000003" y2="738.45" stroke="#888" stroke-width="0.7"/>
<line x1="500.1" y1="738.45" x2="502.70000000000005" y2="738.45" stroke="#888" stroke-width="0.7"/>
<line x1="510.90000000000003" y1="738.45" x2="513.5" y2="738.45" stroke="#888" stroke-width="0.7"/>
<line x1="521.7" y1="738.45" x2="524.3000000000001" y2="738.45" stroke="#888" stroke-width="0.7"/>
<line x1="532.5" y1="738.45" x2="535.1" y2="738.45" stroke="#888" stroke-width="0.7"/>
<line x1="543.3" y1="738.45" x2="545.9" y2="738.45" stroke="#888" stroke-width="0.7"/>
<text x="669.2" y="740.95" font-size="10.4" fill="#1a1a1a" stroke="#1a1a1a" stroke-width="0.14">VÍT ĐIỀU CHỈNH XU PÁP</text>
<text x="53.2" y="752.17" font-size="10.3" fill="#1a1a1a" stroke="#1a1a1a" stroke-width="0.14">15</text>
<text x="76.8" y="752.17" font-size="10.2" fill="#1a1a1a" stroke="#1a1a1a" stroke-width="0.14">90083-KVB-900</text>
<text x="171.3" y="752.17" font-size="10.6" fill="#1a1a1a" stroke="#1a1a1a" stroke-width="0.14">BOLT, SOCKET KNOCK, 5MM</text>
<line x1="329.6" y1="751.5699999999999" x2="444.5" y2="751.5699999999999" stroke="#3a3a3a" stroke-width="1" stroke-dasharray="1 0.8"/>
<text x="452.6" y="752.17" font-size="10.3" fill="#1a1a1a" stroke="#1a1a1a" stroke-width="0.14">2</text>
<text x="473" y="752.17" font-size="10.3" fill="#1a1a1a" stroke="#1a1a1a" stroke-width="0.14">2</text>
<line x1="489.3" y1="749.67" x2="491.90000000000003" y2="749.67" stroke="#888" stroke-width="0.7"/>
<line x1="500.1" y1="749.67" x2="502.70000000000005" y2="749.67" stroke="#888" stroke-width="0.7"/>
<line x1="510.90000000000003" y1="749.67" x2="513.5" y2="749.67" stroke="#888" stroke-width="0.7"/>
<line x1="521.7" y1="749.67" x2="524.3000000000001" y2="749.67" stroke="#888" stroke-width="0.7"/>
<line x1="532.5" y1="749.67" x2="535.1" y2="749.67" stroke="#888" stroke-width="0.7"/>
<line x1="543.3" y1="749.67" x2="545.9" y2="749.67" stroke="#888" stroke-width="0.7"/>
<text x="669.2" y="752.17" font-size="10.4" fill="#1a1a1a" stroke="#1a1a1a" stroke-width="0.14">BU LÔNG CHÌM 5MM</text>
<text x="53.2" y="770.1" font-size="10.3" fill="#1a1a1a" stroke="#1a1a1a" stroke-width="0.14">16</text>
<text x="76.8" y="770.1" font-size="10.2" fill="#1a1a1a" stroke="#1a1a1a" stroke-width="0.14">90206-001-000</text>
<text x="171.3" y="770.1" font-size="10.6" fill="#1a1a1a" stroke="#1a1a1a" stroke-width="0.14">NUT, TAPPET ADJUSTING</text>
<line x1="318.2" y1="769.5" x2="444.5" y2="769.5" stroke="#3a3a3a" stroke-width="1" stroke-dasharray="1 0.8"/>
<text x="452.6" y="770.1" font-size="10.3" fill="#1a1a1a" stroke="#1a1a1a" stroke-width="0.14">2</text>
<text x="473" y="770.1" font-size="10.3" fill="#1a1a1a" stroke="#1a1a1a" stroke-width="0.14">2</text>
<line x1="489.3" y1="767.6" x2="491.90000000000003" y2="767.6" stroke="#888" stroke-width="0.7"/>
<line x1="500.1" y1="767.6" x2="502.70000000000005" y2="767.6" stroke="#888" stroke-width="0.7"/>
<line x1="510.90000000000003" y1="767.6" x2="513.5" y2="767.6" stroke="#888" stroke-width="0.7"/>
<line x1="521.7" y1="767.6" x2="524.3000000000001" y2="767.6" stroke="#888" stroke-width="0.7"/>
<line x1="532.5" y1="767.6" x2="535.1" y2="767.6" stroke="#888" stroke-width="0.7"/>
<line x1="543.3" y1="767.6" x2="545.9" y2="767.6" stroke="#888" stroke-width="0.7"/>
<text x="669.2" y="770.1" font-size="10.4" fill="#1a1a1a" stroke="#1a1a1a" stroke-width="0.14">ỐC ĐIỀU CHỈNH XU PÁP</text>
</svg></body></html>
